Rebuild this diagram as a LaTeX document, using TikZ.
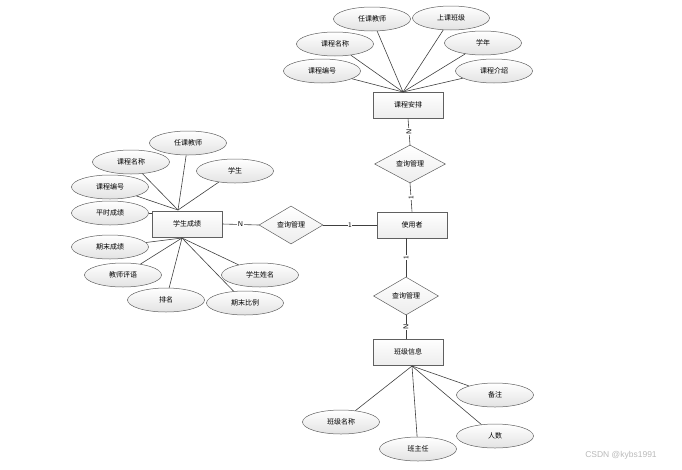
\documentclass[tikz,border=0pt]{standalone}
\usepackage{fontspec}
\newfontfamily\cjk{Noto Sans CJK SC}
\newfontfamily\wmfont{Liberation Sans}
\usetikzlibrary{shapes.geometric,shadows}
\tikzset{
  attr/.style={ellipse,draw=gray!75!black,line width=0.5pt,top color=white,bottom color=gray!22,minimum width=77pt,minimum height=24pt,inner sep=0pt,font=\cjk\fontsize{7}{8}\selectfont},
  ent/.style={rectangle,draw=gray!75!black,line width=0.6pt,top color=white,bottom color=gray!14,minimum width=70pt,minimum height=26pt,inner sep=0pt,font=\cjk\fontsize{7}{8}\selectfont,drop shadow={opacity=0.25,shadow xshift=1pt,shadow yshift=-1pt}},
  rel/.style={diamond,draw=gray!75!black,line width=0.5pt,top color=white,bottom color=gray!14,minimum height=38pt,inner sep=0pt,font=\cjk\fontsize{7}{8}\selectfont},
  conn/.style={draw=gray!50!black,line width=0.6pt},
  card/.style={fill=white,inner sep=0.6pt,font=\sffamily\fontsize{7}{8}\selectfont}
}
\begin{document}
\begin{tikzpicture}[x=1pt,y=-1pt]
\useasboundingbox (0,0) rectangle (682,469);
% top entity
\node[ent] (kcap) at (408,105) {课程安排};
\node[attr] (a1) at (372,19) {任课教师};
\node[attr] (a2) at (451,18) {上课班级};
\node[attr] (a3) at (335,44) {课程名称};
\node[attr] (a4) at (483,43) {学年};
\node[attr] (a5) at (322,71) {课程编号};
\node[attr] (a6) at (494,71) {课程介绍};
\coordinate (kTop) at (403,92);
\foreach \n in {a1,a2,a3,a4,a5,a6} \draw[conn] (\n) -- (kTop);
% relation top
\node[rel,minimum width=71pt] (r1) at (410,164) {查询管理};
% user
\node[ent] (user) at (412,225) {使用者};
% left entity
\node[ent] (xscj) at (187,224) {学生成绩};
\node[attr] (b1) at (188,143) {任课教师};
\node[attr] (b2) at (131,162) {课程名称};
\node[attr] (b3) at (235,171) {学生};
\node[attr] (b4) at (110,187) {课程编号};
\node[attr] (b5) at (110,213) {平时成绩};
\node[attr] (b6) at (110,247) {期末成绩};
\node[attr] (b7) at (123,275) {教师评语};
\node[attr] (b8) at (166,300) {排名};
\node[attr] (b9) at (245,303) {期末比例};
\node[attr] (b10) at (260,275) {学生姓名};
\coordinate (sTop) at (178,210);
\coordinate (sBot) at (182,238);
\coordinate (sLeft) at (152,213);
\foreach \n in {b1,b2,b3,b4} \draw[conn] (\n) -- (sTop);
\draw[conn] (b5) -- (sLeft);
\foreach \n in {b6,b7,b8,b9,b10} \draw[conn] (\n) -- (sBot);
% left relation
\node[rel,minimum width=64pt] (r2) at (291,225) {查询管理};
% bottom relation
\node[rel,minimum width=65pt] (r3) at (406,296) {查询管理};
% bottom entity
\node[ent] (bjxx) at (408,352) {班级信息};
\node[attr] (c1) at (495,395) {备注};
\node[attr] (c2) at (341,422) {班级名称};
\node[attr] (c3) at (418,449) {班主任};
\node[attr] (c4) at (495,436) {人数};
\coordinate (bBot) at (412,366);
\foreach \n in {c1,c2,c3,c4} \draw[conn] (\n) -- (bBot);
% relationship connectors
\draw[conn] (kcap.south) -- node[card,rotate=90] {N} (r1.north);
\draw[conn] (r1.south) -- node[card,rotate=90] {1} (user.north);
\draw[conn] (xscj.east) -- node[card] {N} (r2.west);
\draw[conn] (r2.east) -- node[card] {1} (user.west);
\draw[conn] (user.south -| r3.north) -- node[card,rotate=90] {1} (r3.north);
\draw[conn] (r3.south) -- node[card,rotate=90] {N} (bjxx.north -| r3.south);
% watermark
\node[font=\wmfont\fontsize{8.5}{9}\selectfont,text=gray!55] (wm) at (621,455) {CSDN @kybs1991};
\end{tikzpicture}
\end{document}
